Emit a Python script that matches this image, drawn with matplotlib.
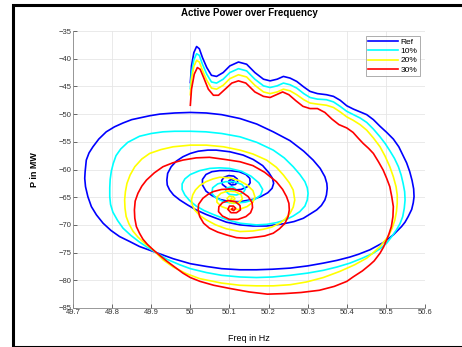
import numpy as np
import matplotlib
matplotlib.use("Agg")
import matplotlib.pyplot as plt
from matplotlib.patches import Rectangle

# traced trajectories (frequency in Hz, active power in MW)
ref_f = [50.000, 50.003, 50.009, 50.016, 50.023, 50.031, 50.042, 50.054, 50.067, 50.084,
         50.101, 50.123, 50.144, 50.165, 50.187, 50.204, 50.222, 50.238, 50.255, 50.272,
         50.290, 50.306, 50.325, 50.348, 50.366, 50.383, 50.400, 50.417, 50.434, 50.451,
         50.468, 50.485, 50.502, 50.519, 50.533, 50.544, 50.553, 50.561, 50.567, 50.571,
         50.572, 50.570, 50.566, 50.557, 50.549, 50.540, 50.519, 50.493, 50.459, 50.430,
         50.408, 50.375, 50.340, 50.300, 50.255, 50.210, 50.169, 50.127, 50.080, 50.041,
         50.000, 49.956, 49.905, 49.870, 49.845, 49.819, 49.797, 49.777, 49.760, 49.747,
         49.738, 49.732, 49.730, 49.731, 49.734, 49.741, 49.751, 49.766, 49.785, 49.806,
         49.828, 49.850, 49.870, 49.896, 49.922, 49.960, 50.000, 50.041, 50.080, 50.127,
         50.170, 50.212, 50.255, 50.290, 50.314, 50.332, 50.344, 50.349, 50.350, 50.348,
         50.344, 50.335, 50.323, 50.305, 50.289, 50.265, 50.238, 50.195, 50.160, 50.127,
         50.092, 50.066, 50.040, 50.015, 49.993, 49.973, 49.957, 49.947, 49.941, 49.940,
         49.942, 49.951, 49.964, 49.981, 50.000, 50.020, 50.045, 50.066, 50.101, 50.135,
         50.161, 50.185, 50.201, 50.210, 50.213, 50.209, 50.198, 50.180, 50.160, 50.127,
         50.100, 50.076, 50.055, 50.040, 50.031, 50.031, 50.040, 50.055, 50.075, 50.101,
         50.125, 50.142, 50.152, 50.153, 50.146, 50.130, 50.112, 50.095, 50.082, 50.080,
         50.086, 50.098, 50.111, 50.120, 50.121, 50.115, 50.105, 50.098, 50.099, 50.106,
         50.112, 50.109, 50.105]
ref_p = [-44.3, -41.3, -38.9, -37.8, -38.2, -39.8, -41.6, -43.0, -43.2, -42.5,
         -41.3, -40.6, -41.0, -42.5, -43.7, -44.0, -43.7, -43.2, -43.5, -44.1,
         -45.1, -45.9, -46.3, -46.5, -46.8, -47.5, -48.5, -49.1, -49.6, -50.1,
         -51.0, -52.2, -53.3, -54.5, -55.9, -57.5, -58.8, -60.4, -62.0, -63.5,
         -64.9, -66.0, -67.2, -68.5, -69.5, -70.3, -71.8, -73.2, -74.5, -75.3,
         -75.8, -76.4, -76.9, -77.4, -77.8, -78.0, -78.1, -78.1, -77.9, -77.5,
         -77.0, -76.1, -74.8, -73.9, -73.0, -72.1, -71.0, -69.7, -68.2, -66.7,
         -64.9, -63.1, -61.6, -60.4, -58.3, -57.0, -55.9, -54.5, -53.2, -52.3,
         -51.6, -51.0, -50.7, -50.3, -50.0, -49.8, -49.7, -49.8, -50.1, -50.8,
         -51.8, -53.2, -54.8, -56.7, -58.3, -59.8, -61.3, -62.5, -63.4, -64.6,
         -65.5, -66.5, -67.3, -68.1, -68.8, -69.4, -69.8, -70.2, -70.2, -70.0,
         -69.5, -68.8, -68.1, -67.3, -66.4, -65.5, -64.6, -63.7, -62.8, -61.9,
         -60.7, -59.5, -58.5, -57.7, -57.1, -56.7, -56.5, -56.5, -56.8, -57.4,
         -58.2, -59.3, -60.6, -61.6, -62.5, -63.4, -64.2, -64.9, -65.4, -65.8,
         -65.8, -65.4, -64.7, -63.9, -62.8, -61.8, -60.9, -60.4, -60.2, -60.2,
         -60.4, -60.9, -61.6, -62.4, -63.1, -63.6, -63.7, -63.4, -62.7, -62.0,
         -61.4, -61.1, -61.2, -61.7, -62.3, -62.7, -62.8, -62.4, -62.0, -61.8,
         -62.1, -62.4, -62.3]

p10_f = [50.000, 50.003, 50.009, 50.016, 50.023, 50.031, 50.042, 50.054, 50.067, 50.084,
         50.101, 50.123, 50.144, 50.165, 50.187, 50.204, 50.222, 50.238, 50.255, 50.272,
         50.290, 50.306, 50.325, 50.348, 50.366, 50.383, 50.400, 50.417, 50.434, 50.451,
         50.468, 50.485, 50.498, 50.510, 50.522, 50.532, 50.539, 50.544, 50.548, 50.549,
         50.547, 50.543, 50.536, 50.527, 50.515, 50.502, 50.485, 50.468, 50.440, 50.408,
         50.375, 50.340, 50.300, 50.255, 50.210, 50.169, 50.127, 50.080, 50.041, 50.000,
         49.973, 49.940, 49.905, 49.885, 49.870, 49.848, 49.828, 49.814, 49.802, 49.796,
         49.794, 49.794, 49.795, 49.798, 49.803, 49.810, 49.822, 49.840, 49.870, 49.900,
         49.930, 49.960, 50.000, 50.040, 50.080, 50.127, 50.170, 50.212, 50.240, 50.263,
         50.280, 50.293, 50.299, 50.301, 50.299, 50.293, 50.280, 50.263, 50.243, 50.220,
         50.195, 50.169, 50.127, 50.100, 50.080, 50.058, 50.035, 50.015, 49.998, 49.986,
         49.979, 49.979, 49.986, 50.000, 50.024, 50.050, 50.075, 50.100, 50.130, 50.155,
         50.175, 50.185, 50.180, 50.165, 50.140, 50.110, 50.085, 50.065, 50.055, 50.057,
         50.070, 50.090, 50.112, 50.132, 50.141, 50.135, 50.118, 50.100, 50.090, 50.094,
         50.107, 50.116, 50.112, 50.103, 50.103, 50.108]
p10_p = [-45.4, -42.6, -40.2, -39.1, -39.4, -41.0, -42.8, -44.2, -44.4, -43.7,
         -42.5, -41.8, -42.2, -43.7, -44.9, -45.2, -44.9, -44.4, -44.7, -45.3,
         -46.3, -47.0, -47.3, -47.4, -47.8, -48.6, -49.5, -50.1, -50.7, -51.5,
         -52.7, -54.1, -55.3, -56.6, -58.0, -59.5, -61.0, -62.5, -64.0, -65.5,
         -67.0, -68.5, -69.8, -70.9, -72.1, -73.3, -74.3, -75.1, -76.0, -76.9,
         -77.6, -78.2, -78.7, -79.1, -79.4, -79.5, -79.4, -79.1, -78.6, -77.9,
         -77.2, -76.2, -74.7, -73.8, -73.1, -71.9, -70.6, -69.2, -67.7, -66.3,
         -64.9, -63.3, -61.8, -60.3, -58.9, -57.5, -56.3, -55.1, -54.0, -53.5,
         -53.2, -53.1, -53.1, -53.2, -53.5, -54.1, -55.1, -56.5, -57.9, -59.5,
         -60.9, -62.2, -63.3, -64.3, -65.5, -66.6, -67.6, -68.4, -69.1, -69.6,
         -69.9, -70.0, -69.7, -69.2, -68.7, -68.1, -67.4, -66.6, -65.6, -64.6,
         -63.6, -62.6, -61.7, -60.9, -60.2, -59.8, -59.7, -59.8, -60.3, -61.2,
         -62.4, -63.6, -64.6, -65.4, -65.9, -66.1, -65.8, -65.1, -64.3, -63.3,
         -62.6, -62.2, -62.2, -62.7, -63.5, -64.2, -64.6, -64.5, -63.9, -63.3,
         -63.1, -63.5, -63.9, -63.8, -63.5, -63.5]

p20_f = [50.000, 50.003, 50.009, 50.016, 50.023, 50.031, 50.042, 50.054, 50.067, 50.084,
         50.101, 50.123, 50.144, 50.165, 50.187, 50.204, 50.222, 50.238, 50.255, 50.272,
         50.290, 50.306, 50.325, 50.348, 50.366, 50.383, 50.400, 50.416, 50.434, 50.451,
         50.468, 50.485, 50.498, 50.510, 50.519, 50.526, 50.529, 50.529, 50.527, 50.523,
         50.516, 50.506, 50.485, 50.468, 50.451, 50.420, 50.382, 50.340, 50.297, 50.255,
         50.212, 50.169, 50.127, 50.080, 50.024, 49.990, 49.956, 49.930, 49.905, 49.883,
         49.866, 49.853, 49.843, 49.836, 49.833, 49.832, 49.834, 49.838, 49.846, 49.858,
         49.876, 49.896, 49.925, 49.956, 50.000, 50.041, 50.085, 50.127, 50.160, 50.195,
         50.220, 50.238, 50.253, 50.263, 50.267, 50.263, 50.255, 50.243, 50.229, 50.208,
         50.186, 50.160, 50.127, 50.092, 50.065, 50.041, 50.024, 50.011, 50.005, 50.003,
         50.006, 50.013, 50.024, 50.040, 50.058, 50.075, 50.100, 50.125, 50.145, 50.160,
         50.165, 50.160, 50.145, 50.125, 50.100, 50.080, 50.068, 50.068, 50.078, 50.095,
         50.115, 50.130, 50.133, 50.125, 50.110, 50.097, 50.094, 50.100, 50.110, 50.114,
         50.108, 50.103, 50.106]
p20_p = [-46.5, -43.7, -41.4, -40.3, -40.6, -42.1, -43.9, -45.3, -45.5, -44.8,
         -43.6, -42.9, -43.3, -44.8, -46.0, -46.3, -46.0, -45.5, -45.8, -46.5,
         -47.4, -48.0, -48.2, -48.4, -48.8, -49.6, -50.5, -51.1, -51.9, -52.9,
         -54.3, -55.9, -57.6, -59.5, -61.3, -63.1, -64.6, -66.1, -67.6, -69.1,
         -70.6, -72.1, -73.9, -75.0, -76.0, -77.2, -78.4, -79.5, -80.3, -80.8,
         -81.0, -81.0, -80.9, -80.5, -79.7, -78.8, -77.6, -76.3, -74.5, -73.3,
         -72.2, -71.1, -69.8, -68.5, -67.0, -65.5, -64.0, -62.5, -61.0, -59.5,
         -58.1, -57.1, -56.4, -55.9, -55.6, -55.6, -55.9, -56.5, -57.2, -58.3,
         -59.6, -61.0, -62.4, -63.7, -65.5, -66.8, -67.9, -68.9, -69.7, -70.4,
         -70.8, -71.1, -71.2, -70.7, -70.0, -69.1, -68.3, -67.3, -66.4, -65.5,
         -64.6, -63.7, -62.9, -62.2, -61.7, -61.4, -61.5, -62.0, -62.8, -63.8,
         -64.9, -65.9, -66.7, -67.2, -67.2, -66.7, -65.9, -65.0, -64.3, -63.9,
         -64.0, -64.6, -65.3, -65.9, -66.1, -65.8, -65.2, -64.8, -64.9, -65.3,
         -65.6, -65.4, -65.2]

p30_f = [50.000, 50.003, 50.010, 50.018, 50.025, 50.034, 50.046, 50.059, 50.072, 50.089,
         50.106, 50.123, 50.142, 50.165, 50.187, 50.204, 50.220, 50.236, 50.252, 50.270,
         50.288, 50.306, 50.325, 50.344, 50.362, 50.380, 50.400, 50.416, 50.430, 50.442,
         50.456, 50.468, 50.481, 50.493, 50.502, 50.510, 50.515, 50.519, 50.518, 50.514,
         50.508, 50.502, 50.494, 50.485, 50.470, 50.459, 50.440, 50.416, 50.400, 50.368,
         50.330, 50.283, 50.240, 50.197, 50.150, 50.103, 50.060, 50.025, 50.000, 49.981,
         49.960, 49.939, 49.920, 49.905, 49.890, 49.879, 49.870, 49.862, 49.858, 49.857,
         49.859, 49.866, 49.876, 49.888, 49.908, 49.930, 49.955, 49.981, 50.015, 50.049,
         50.090, 50.127, 50.160, 50.190, 50.220, 50.236, 50.246, 50.252, 50.253, 50.250,
         50.242, 50.228, 50.212, 50.190, 50.169, 50.143, 50.118, 50.092, 50.070, 50.049,
         50.034, 50.024, 50.020, 50.021, 50.032, 50.045, 50.058, 50.080, 50.109, 50.130,
         50.148, 50.158, 50.159, 50.154, 50.142, 50.122, 50.100, 50.082, 50.072, 50.073,
         50.082, 50.097, 50.115, 50.127, 50.128, 50.118, 50.104, 50.096, 50.100, 50.110,
         50.116, 50.111, 50.105, 50.108]
p30_p = [-48.4, -45.5, -42.8, -41.6, -41.9, -43.4, -45.5, -46.6, -46.6, -45.5,
         -44.4, -44.0, -44.4, -46.0, -46.8, -47.0, -46.5, -46.0, -46.5, -47.6,
         -48.6, -49.0, -49.0, -49.7, -50.9, -51.9, -52.5, -53.3, -54.4, -55.3,
         -56.2, -57.1, -58.6, -60.1, -61.6, -63.1, -64.9, -66.7, -68.5, -70.3,
         -71.6, -72.7, -74.0, -75.1, -76.5, -77.2, -78.3, -79.4, -80.2, -81.1,
         -81.8, -82.2, -82.4, -82.5, -82.1, -81.5, -80.9, -80.2, -79.5, -78.7,
         -77.6, -76.5, -75.4, -74.5, -73.5, -72.6, -71.5, -70.3, -68.8, -67.3,
         -65.7, -64.3, -63.0, -61.9, -60.6, -59.5, -58.8, -58.3, -57.9, -57.8,
         -58.2, -58.6, -59.3, -60.5, -62.2, -63.6, -64.9, -66.1, -67.3, -68.5,
         -69.7, -70.7, -71.5, -72.0, -72.2, -72.4, -72.3, -71.8, -71.3, -70.6,
         -69.7, -68.5, -67.3, -66.3, -65.2, -64.5, -64.0, -63.6, -63.5, -64.0,
         -64.9, -66.0, -66.9, -67.8, -68.5, -69.0, -69.0, -68.4, -67.6, -66.7,
         -66.0, -65.6, -65.8, -66.5, -67.3, -67.8, -67.8, -67.2, -66.6, -66.6,
         -67.0, -67.4, -67.2, -67.0]

labels = ["Ref", "10%", "20%", "30%"]
colors = ["#0000ff", "#00ffff", "#ffff00", "#ff0000"]

x_ticks = [49.7, 49.8, 49.9, 50, 50.1, 50.2, 50.3, 50.4, 50.5, 50.6]
y_ticks = [-85, -80, -75, -70, -65, -60, -55, -50, -45, -40, -35]

plt.rcParams['font.family'] = ['Liberation Sans', 'DejaVu Sans']
fig = plt.figure(figsize=(4.62, 3.47), dpi=100)
fig.patches.append(Rectangle((13 / 462, 0.0), 1.0, 1 - 5 / 347, transform=fig.transFigure,
                             fill=False, edgecolor="black", linewidth=2.2))
ax = fig.add_axes([73 / 462, 39 / 347, 352 / 462, 277 / 347])

series = [(ref_f, ref_p), (p10_f, p10_p), (p20_f, p20_p), (p30_f, p30_p)]
for (f, p), lab, col in zip(series, labels, colors):
    ax.plot(f, p, color=col, linewidth=1.2, label=lab, solid_joinstyle="round")

ax.set_xlim(49.7, 50.6)
ax.set_ylim(-85, -35)
ax.set_xticks(x_ticks)
ax.set_xticklabels([str(t) for t in x_ticks])
ax.set_yticks(y_ticks)
ax.grid(True, color="#e6e6e6", linewidth=0.6)
ax.tick_params(direction="in", length=3, width=0.5, labelsize=5.5, colors="#333333",
               top=False, right=False, pad=1)
for side in ["top", "right"]:
    ax.spines[side].set_visible(False)
for side in ["left", "bottom"]:
    ax.spines[side].set_color("#888888")
    ax.spines[side].set_linewidth(0.6)

ax.set_title("Active Power over Frequency", fontsize=7, fontweight="bold", pad=11)
ax.set_xlabel("Freq in Hz", fontsize=6.5, labelpad=13)
ax.set_ylabel("P in MW", fontsize=6.5, fontweight="bold", labelpad=14)

leg = ax.legend(loc="upper right", fontsize=6, frameon=True, fancybox=False,
                handlelength=3.6, handletextpad=0.3, borderpad=0.3, labelspacing=0.15,
                borderaxespad=0.6)
leg.get_frame().set_edgecolor("#888888")
leg.get_frame().set_linewidth(0.6)

fig.savefig("out.png", dpi=100)
